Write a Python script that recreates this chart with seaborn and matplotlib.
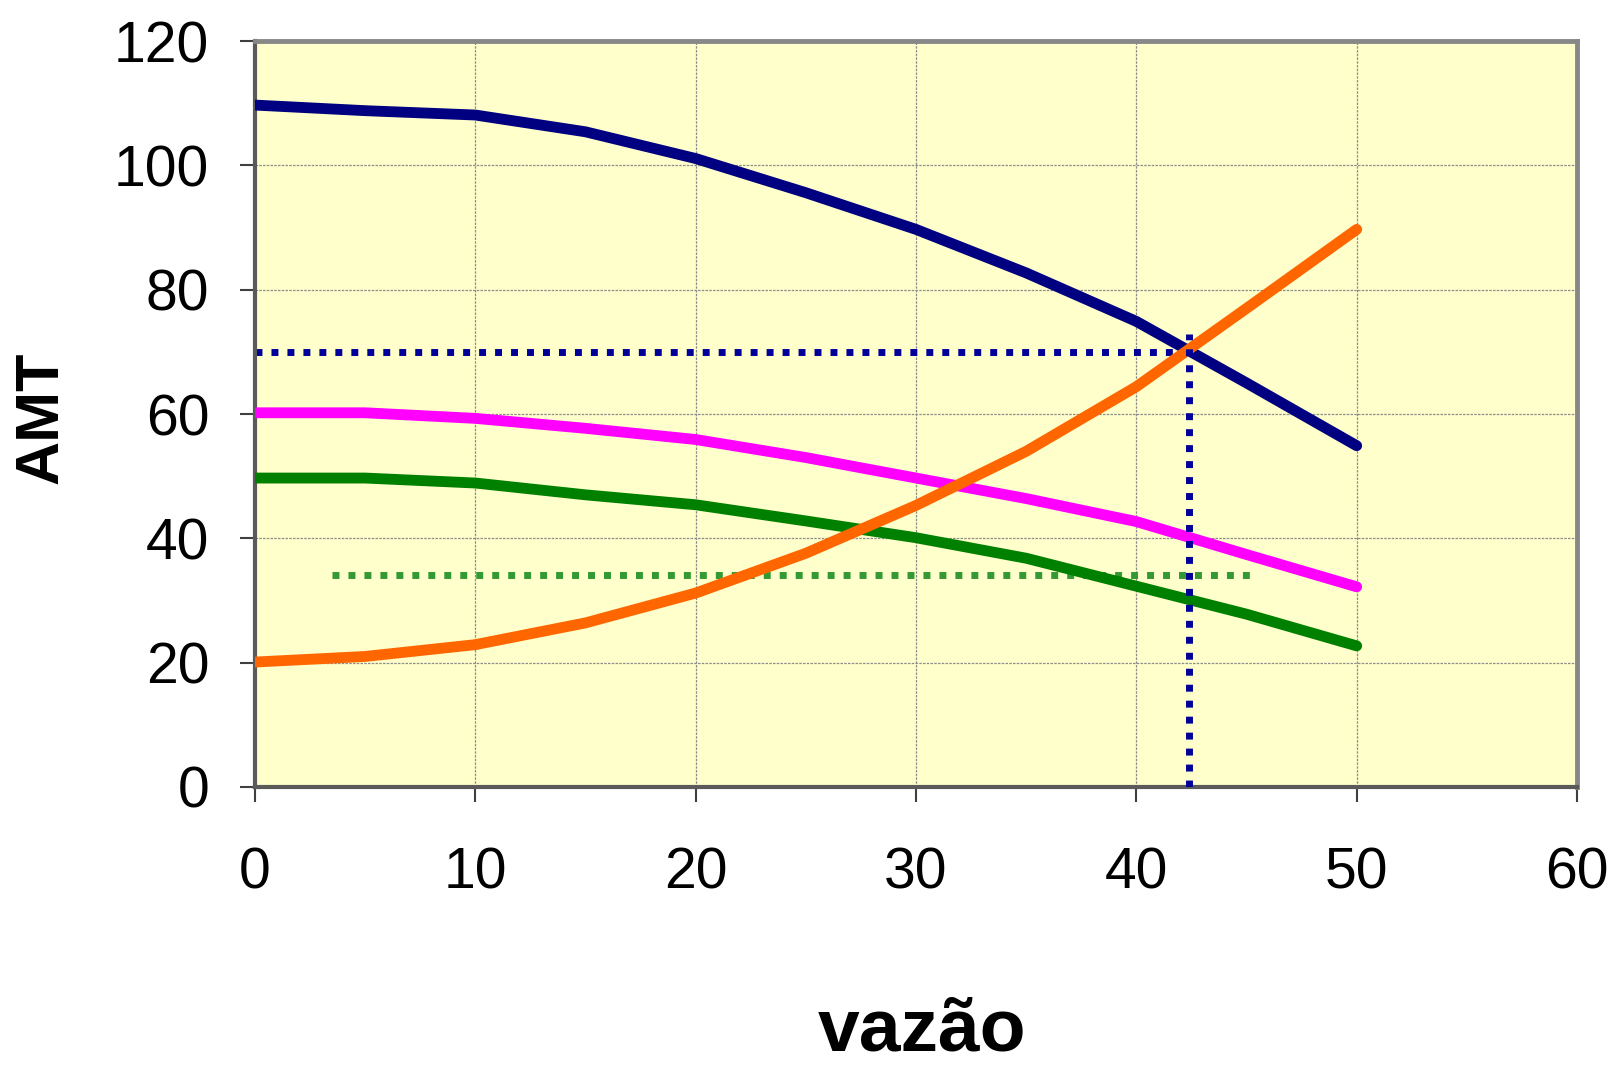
import numpy as np
import pandas as pd
import matplotlib
matplotlib.use("Agg")
import matplotlib.pyplot as plt
import seaborn as sns

# Flow rates (vazão) at which each curve was sampled
vazao = [0, 5, 10, 15, 20, 25, 30, 35, 40, 45, 50]

# Head (AMT) curves
bomba_1 = [109.7, 108.8, 108.1, 105.4, 101.1, 95.6, 89.7, 82.7, 74.9, 65.0, 54.9]
bomba_2 = [60.2, 60.2, 59.3, 57.7, 55.9, 53.0, 49.7, 46.4, 42.7, 37.4, 32.2]
bomba_3 = [49.7, 49.7, 48.9, 47.0, 45.4, 42.8, 40.1, 36.8, 32.3, 27.8, 22.7]
sistema = [20.1, 21.0, 22.9, 26.4, 31.2, 37.6, 45.3, 54.0, 64.4, 77.0, 89.7]

# Operating point (pump 1 x system) and a reference head level
ponto_vazao = 42.4
ponto_amt = 70.0
nivel_amt = 34.1
nivel_inicio = 3.5
nivel_fim = 45.3

x_ticks = [0, 10, 20, 30, 40, 50, 60]
y_ticks = [0, 20, 40, 60, 80, 100, 120]

series_names = ["bomba 1", "bomba 2", "bomba 3", "sistema"]
series_values = [bomba_1, bomba_2, bomba_3, sistema]
palette = {"bomba 1": "#000080", "bomba 2": "#FF00FF",
           "bomba 3": "#008000", "sistema": "#FF6600"}

df = pd.concat(
    [pd.DataFrame({"vazão": vazao, "AMT": vals, "curva": name})
     for name, vals in zip(series_names, series_values)],
    ignore_index=True,
)

sns.set_theme(style="white")
plt.rcParams["font.family"] = ["Liberation Sans", "DejaVu Sans"]

fig = plt.figure(figsize=(16.15, 10.69), dpi=100)
ax = fig.add_axes([0.1579, 0.2638, 0.8186, 0.6978])
ax.set_facecolor("#FFFFCC")

# Reference (dotted) lines drawn beneath the curves
dot = (0, (1, 1.3))
ax.hlines(nivel_amt, nivel_inicio, nivel_fim, colors="#339933",
          linewidth=5, linestyles=dot, zorder=2)
ax.hlines(ponto_amt, 0, ponto_vazao - 0.6, colors="#000099",
          linewidth=5, linestyles=dot, zorder=2)

sns.lineplot(data=df, x="vazão", y="AMT", hue="curva", palette=palette,
             legend=False, ax=ax, sort=False, zorder=3)
for line in ax.get_lines():
    line.set_linewidth(7.8)
    line.set_solid_capstyle("round")
    line.set_solid_joinstyle("round")

ax.vlines(ponto_vazao, 0, 72.8, colors="#000099",
          linewidth=5, linestyles=dot, zorder=4)

ax.set_xlim(0, 60)
ax.set_ylim(0, 120)
ax.set_xticks(x_ticks)
ax.set_yticks(y_ticks)
ax.set_xticklabels([str(t) for t in x_ticks])
ax.set_yticklabels([str(t) for t in y_ticks])

ax.grid(True, color="#8c8c8c", linewidth=0.9, linestyle=(0, (2, 1)))
ax.set_axisbelow(True)

ax.tick_params(axis="both", which="major", direction="out", length=11,
               width=1.5, color="#404040", labelsize=41, labelcolor="black")
ax.tick_params(axis="x", pad=32, bottom=True)
ax.tick_params(axis="y", pad=22, left=True)

for side in ["top", "right"]:
    ax.spines[side].set_color("#888888")
    ax.spines[side].set_linewidth(3.5)
for side in ["left", "bottom"]:
    ax.spines[side].set_color("#5a5a5a")
    ax.spines[side].set_linewidth(3)
for sp in ax.spines.values():
    sp.set_visible(True)

ax.set_xlabel("")
ax.set_ylabel("")
fig.text(0.026, 0.609, "AMT", rotation=90, fontsize=44, fontweight="bold",
         ha="center", va="center", color="black")
fig.text(0.571, 0.036, "vazão", fontsize=54, fontweight="bold",
         ha="center", va="center", color="black")

fig.savefig("out.png", dpi=100, facecolor="white")
